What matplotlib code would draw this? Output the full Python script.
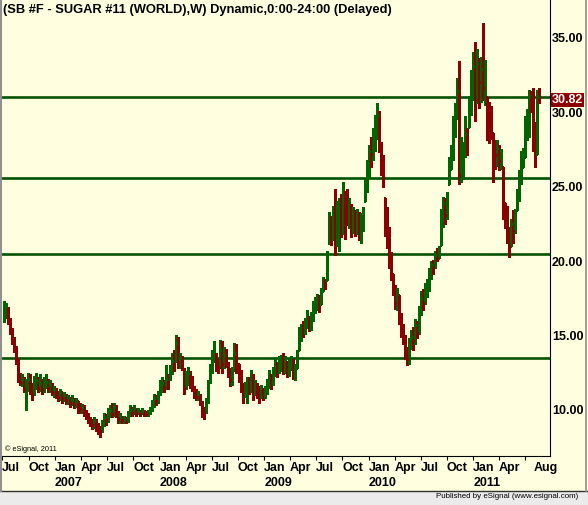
import matplotlib
matplotlib.use("Agg")
import matplotlib.pyplot as plt
import matplotlib.dates as mdates
from matplotlib.transforms import ScaledTranslation, blended_transform_factory
from matplotlib.lines import Line2D
from matplotlib.patches import Rectangle
import numpy as np
import pandas as pd

plt.rcParams['font.family'] = ['Liberation Sans', 'DejaVu Sans']

# weekly bars, SB #F sugar, Jul 2006 - Aug 2011
first_week = "2006-07-07"

opens = [16.2, 16.6, 16.6, 15.9, 15.2, 14.6, 13.9, 13.2, 12.2, 11.7, 11.9, 11.2, 11.6, 11.9, 11.3, 10.9,
         11.5, 11.8, 11.3, 11.6, 11.2, 11.6, 11.7, 11.3, 11.5, 11.0, 11.2, 10.9, 10.7, 11.0, 10.6, 10.8,
         10.5, 10.6, 10.3, 10.5, 10.2, 10.4, 10.0, 9.9, 10.0, 9.6, 9.4, 9.1, 9.0, 8.8, 9.1, 8.7,
         8.5, 8.4, 8.9, 9.3, 9.1, 9.6, 9.8, 9.5, 10.0, 9.6, 9.2, 9.3, 9.1, 9.2, 9.0, 9.5,
         9.8, 9.6, 9.9, 9.6, 9.7, 9.5, 9.7, 9.6, 9.5, 9.6, 9.8, 10.3, 10.6, 10.4, 10.9, 11.3,
         11.6, 11.3, 11.9, 11.9, 12.5, 13.1, 13.1, 14.3, 13.0, 13.3, 12.5, 11.3, 11.8, 12.3, 11.9, 11.4,
         11.0, 10.7, 10.9, 10.4, 9.8, 9.6, 10.3, 11.7, 12.5, 13.5, 13.6, 13.0, 12.7, 13.8, 12.9, 13.5,
         13.0, 12.4, 11.8, 12.4, 13.6, 12.9, 12.0, 11.5, 11.0, 11.4, 11.8, 11.2, 11.7, 11.0, 11.4, 11.1,
         10.9, 11.2, 10.8, 11.2, 11.5, 12.0, 11.6, 12.4, 12.8, 12.5, 12.9, 13.1, 12.6, 12.9, 12.4, 12.8,
         13.0, 12.5, 12.6, 13.8, 14.8, 15.2, 15.0, 15.6, 15.9, 15.4, 16.0, 16.6, 16.9, 17.3, 16.9, 17.8,
         18.3, 18.5, 21.0, 21.6, 21.3, 22.5, 21.0, 21.6, 23.5, 22.4, 24.2, 23.2, 22.8, 23.3, 22.0, 22.6,
         22.2, 22.9, 22.3, 22.5, 23.8, 24.6, 26.1, 27.2, 27.0, 28.0, 28.8, 29.6, 27.5, 26.4, 24.0, 22.3,
         21.5, 19.8, 18.9, 18.0, 17.0, 17.5, 16.0, 15.1, 14.6, 13.5, 13.2, 14.2, 14.7, 14.4, 15.5, 15.0,
         16.4, 17.3, 17.0, 17.8, 18.0, 18.9, 19.5, 19.4, 20.2, 20.0, 20.9, 22.8, 23.7, 22.9, 25.0, 26.0,
         27.1, 28.6, 29.8, 31.2, 25.6, 26.4, 27.0, 28.3, 28.8, 29.8, 31.6, 32.9, 30.6, 33.1, 31.8, 32.7,
         31.4, 30.8, 30.2, 29.5, 28.4, 27.6, 26.9, 27.4, 26.5, 26.1, 23.7, 23.2, 21.9, 20.8, 22.3, 21.8,
         23.2, 24.1, 25.5, 26.1, 26.8, 28.7, 29.2, 30.9, 30.5, 28.2, 27.0, 30.9]

highs = [17.1, 17.0, 16.7, 16.0, 15.3, 14.7, 14.1, 13.2, 12.3, 12.2, 12.0, 11.9, 12.3, 12.2, 11.6, 12.1,
         12.3, 12.0, 12.2, 11.9, 12.0, 12.2, 11.9, 11.8, 11.6, 11.4, 11.3, 11.1, 11.2, 11.0, 11.0, 10.9,
         10.8, 10.7, 10.8, 10.6, 10.6, 10.4, 10.3, 10.2, 10.1, 9.8, 9.6, 9.3, 9.2, 9.3, 9.2, 8.9,
         8.7, 9.1, 9.6, 9.5, 9.9, 10.1, 10.3, 10.3, 10.1, 9.7, 9.6, 9.4, 9.4, 9.3, 9.7, 10.1,
         10.0, 10.1, 9.9, 9.9, 9.8, 9.9, 9.8, 9.7, 9.8, 10.0, 10.5, 10.9, 10.8, 11.1, 11.8, 12.0,
         11.8, 12.8, 12.2, 12.8, 13.6, 13.8, 14.8, 14.7, 13.6, 13.4, 12.6, 12.4, 12.7, 12.4, 12.1, 11.4,
         11.2, 11.1, 10.9, 10.4, 10.0, 10.6, 11.8, 12.9, 13.8, 14.4, 13.6, 13.2, 14.5, 14.4, 14.0, 13.9,
         13.0, 12.6, 12.7, 14.3, 14.2, 12.9, 12.5, 11.6, 11.7, 12.0, 12.0, 12.5, 12.2, 11.8, 11.6, 11.4,
         11.5, 11.3, 11.4, 11.9, 12.5, 12.2, 12.7, 13.2, 13.0, 13.4, 13.5, 13.6, 13.4, 13.1, 13.2, 13.4,
         13.2, 12.9, 13.8, 15.4, 15.6, 15.8, 16.0, 16.5, 16.1, 16.4, 17.1, 17.4, 17.6, 17.5, 18.0, 18.7,
         18.6, 20.5, 23.1, 22.8, 23.5, 24.6, 23.8, 24.0, 24.3, 25.1, 24.5, 24.6, 24.0, 23.6, 23.4, 23.2,
         23.3, 23.1, 23.0, 23.4, 25.3, 26.6, 27.6, 28.1, 28.7, 29.6, 30.4, 29.9, 27.8, 26.9, 24.0, 23.4,
         22.1, 20.4, 18.9, 18.2, 18.0, 17.5, 16.3, 15.6, 14.8, 14.0, 14.6, 15.2, 15.4, 15.9, 15.8, 16.8,
         17.8, 17.9, 18.3, 18.6, 19.3, 19.8, 19.9, 20.5, 20.7, 20.8, 23.3, 24.1, 24.0, 24.4, 26.8, 27.6,
         29.5, 30.4, 32.1, 33.2, 28.1, 27.8, 29.5, 28.7, 30.9, 32.6, 33.8, 34.5, 34.0, 33.4, 33.5, 35.8,
         33.3, 30.8, 30.5, 30.2, 28.4, 27.9, 27.9, 27.6, 27.3, 26.1, 23.7, 23.5, 22.1, 22.6, 23.2, 23.3,
         24.6, 25.9, 27.2, 27.4, 29.5, 30.0, 31.3, 31.2, 31.4, 29.1, 31.3, 31.4]

lows = [15.7, 16.0, 15.6, 14.9, 14.2, 13.7, 12.9, 11.7, 11.5, 11.4, 11.0, 9.8, 11.1, 10.9, 10.5, 10.8,
        11.2, 11.0, 11.1, 10.9, 11.0, 11.3, 11.0, 11.0, 10.8, 10.7, 10.6, 10.4, 10.5, 10.3, 10.4, 10.2,
        10.2, 10.0, 10.1, 9.9, 10.0, 9.6, 9.6, 9.6, 9.4, 9.2, 8.9, 8.7, 8.5, 8.6, 8.4, 8.2,
        8.0, 8.3, 8.7, 8.8, 9.0, 9.3, 9.3, 9.4, 9.3, 8.9, 8.9, 8.9, 8.9, 8.9, 9.0, 9.4,
        9.4, 9.5, 9.4, 9.5, 9.4, 9.5, 9.4, 9.4, 9.4, 9.5, 9.7, 10.0, 10.1, 10.3, 10.8, 11.0,
        11.0, 11.2, 11.2, 11.8, 12.2, 12.4, 13.0, 12.6, 12.6, 12.5, 10.9, 11.2, 11.5, 11.3, 11.1, 10.6,
        10.5, 10.5, 10.1, 9.3, 9.2, 9.6, 10.3, 11.6, 12.3, 13.0, 12.4, 12.3, 12.6, 12.3, 12.6, 12.7,
        12.0, 11.4, 11.5, 12.4, 12.3, 11.7, 11.0, 10.3, 10.7, 10.3, 10.9, 11.0, 10.5, 10.8, 10.6, 10.3,
        10.6, 10.5, 10.6, 10.9, 11.3, 11.2, 11.5, 12.1, 12.0, 12.3, 12.4, 12.2, 12.3, 12.0, 12.1, 12.5,
        11.9, 11.8, 12.6, 13.8, 14.4, 14.7, 14.9, 15.3, 15.1, 15.2, 15.8, 16.3, 16.5, 16.4, 16.9, 17.8,
        17.9, 18.5, 21.0, 20.9, 21.2, 20.2, 20.8, 20.5, 21.4, 21.6, 21.3, 22.2, 22.0, 21.4, 21.7, 21.5,
        21.6, 21.2, 21.0, 21.8, 23.8, 24.4, 25.4, 26.1, 26.6, 27.2, 28.0, 27.1, 25.6, 24.8, 21.5, 20.7,
        19.3, 18.5, 17.5, 16.6, 16.5, 15.6, 14.7, 14.2, 13.2, 12.8, 12.9, 13.9, 13.8, 14.2, 14.6, 14.9,
        16.2, 16.5, 16.9, 17.4, 17.8, 18.6, 18.9, 19.3, 19.8, 20.0, 20.9, 22.1, 22.3, 22.6, 25.0, 26.0,
        26.6, 28.1, 29.3, 25.0, 25.1, 25.3, 26.8, 26.9, 28.8, 29.6, 30.6, 29.2, 30.4, 30.1, 30.5, 30.6,
        30.3, 27.9, 27.7, 28.0, 25.1, 26.0, 26.2, 25.9, 26.0, 22.6, 22.0, 21.0, 20.1, 20.8, 21.0, 21.7,
        23.2, 23.8, 25.0, 26.1, 26.8, 27.9, 28.1, 29.8, 27.2, 26.1, 27.0, 30.4]

closes = [16.6, 16.8, 15.9, 15.2, 14.6, 13.9, 13.2, 12.4, 11.7, 11.9, 11.2, 11.6, 11.9, 11.3, 10.9, 11.5,
          11.8, 11.3, 11.6, 11.2, 11.6, 11.7, 11.3, 11.5, 11.0, 11.2, 10.9, 10.7, 11.0, 10.6, 10.8, 10.5,
          10.6, 10.3, 10.5, 10.2, 10.4, 10.0, 9.9, 10.0, 9.6, 9.4, 9.1, 9.0, 8.8, 9.1, 8.7, 8.5,
          8.4, 8.9, 9.3, 9.1, 9.6, 9.8, 9.5, 10.0, 9.6, 9.2, 9.3, 9.1, 9.2, 9.0, 9.5, 9.8,
          9.6, 9.9, 9.6, 9.7, 9.5, 9.7, 9.6, 9.5, 9.6, 9.8, 10.3, 10.6, 10.4, 10.9, 11.3, 11.6,
          11.3, 11.9, 11.6, 12.5, 13.1, 12.8, 14.3, 13.0, 13.3, 12.9, 11.3, 11.8, 12.3, 11.9, 11.4, 11.0,
          10.7, 10.9, 10.4, 9.8, 9.6, 10.3, 11.3, 12.5, 13.5, 13.9, 13.0, 12.7, 13.8, 12.9, 13.5, 13.2,
          12.4, 11.8, 12.1, 13.6, 12.9, 12.0, 11.5, 11.0, 11.4, 11.8, 11.2, 11.7, 11.0, 11.4, 11.1, 10.9,
          11.2, 10.8, 11.2, 11.5, 12.0, 11.6, 12.4, 12.8, 12.5, 12.9, 13.1, 12.6, 12.9, 12.4, 12.8, 13.0,
          12.5, 12.6, 13.4, 14.8, 15.2, 15.0, 15.6, 15.9, 15.4, 16.0, 16.6, 16.9, 17.3, 16.8, 17.6, 18.3,
          18.1, 20.3, 21.6, 21.3, 22.5, 21.0, 21.6, 23.5, 22.4, 24.2, 23.2, 22.8, 23.3, 22.0, 22.6, 22.2,
          22.9, 22.3, 22.5, 22.9, 24.6, 26.1, 27.2, 27.0, 28.0, 28.8, 29.6, 27.5, 26.4, 25.5, 22.3, 21.5,
          19.8, 19.0, 18.0, 17.0, 17.6, 16.0, 15.1, 14.6, 13.5, 13.2, 14.2, 14.7, 14.4, 15.5, 15.0, 16.4,
          17.3, 17.0, 17.8, 18.0, 18.9, 19.5, 19.4, 20.2, 20.0, 20.6, 22.8, 23.7, 22.9, 23.8, 25.8, 27.1,
          28.6, 29.8, 31.2, 25.6, 26.4, 27.0, 28.3, 27.6, 29.8, 31.6, 32.9, 30.6, 33.1, 31.8, 32.7, 31.4,
          32.9, 30.2, 29.5, 28.7, 27.6, 26.9, 27.4, 26.5, 26.8, 25.6, 23.2, 21.9, 20.8, 22.3, 21.8, 22.9,
          24.1, 25.5, 25.9, 26.8, 28.7, 29.2, 30.9, 30.5, 28.2, 26.6, 30.9, 30.82]

# horizontal price lines drawn on the chart
levels = [30.82, 25.35, 20.25, 13.31]
last_price = 30.82

y_ticks = [10, 15, 20, 25, 30, 35]

quarter_starts = pd.date_range("2006-07-01", "2011-07-01", freq="QS")
label_dates = list(pd.date_range("2006-07-01", "2011-04-01", freq="QS")) + [pd.Timestamp("2011-08-01")]
label_texts = ["Jul", "Oct", "Jan\n2007", "Apr", "Jul", "Oct", "Jan\n2008", "Apr", "Jul", "Oct",
               "Jan\n2009", "Apr", "Jul", "Oct", "Jan\n2010", "Apr", "Jul", "Oct", "Jan\n2011", "Apr",
               "Aug"]

title = "(SB #F - SUGAR #11 (WORLD),W) Dynamic,0:00-24:00 (Delayed)"

BG = "#ffffe0"
UP = "#006400"
DOWN = "#8b0000"
W, H = 588, 505

fig = plt.figure(figsize=(W / 100, H / 100), dpi=100, facecolor=BG)
ax = fig.add_axes([2.3 / W, (H - 456) / H, (550 - 2.3) / W, 456 / H])
ax.set_facecolor(BG)

dates = pd.date_range(first_week, periods=len(closes), freq="7D")
x = mdates.date2num(dates)
c = np.array(closes)
prev = np.concatenate([[c[0] - 1], c[:-1]])
colors = np.where(c >= prev, UP, DOWN)

lw = 0.75
ax.vlines(x, lows, highs, colors=colors, linewidth=lw, antialiased=False)
ax.hlines(opens, x - 2.6, x, colors=colors, linewidth=lw, antialiased=False)
ax.hlines(closes, x, x + 2.6, colors=colors, linewidth=lw, antialiased=False)

for lv in levels:
    ax.axhline(lv, color="#005200", linewidth=1.9, zorder=1)

ax.set_xlim(mdates.date2num(pd.Timestamp("2006-07-01")), mdates.date2num(pd.Timestamp("2011-09-26")))
ax.set_ylim(6.71, 37.32)

# y axis on the right
ax.yaxis.tick_right()
ax.set_yticks(y_ticks)
ax.set_yticklabels([f"{v:.2f}" for v in y_ticks], fontsize=9, fontweight="bold")
ax.tick_params(axis="y", length=0, pad=1.5)
shift = ScaledTranslation(0, -3 / 100, fig.dpi_scale_trans)
for lbl in ax.get_yticklabels():
    lbl.set_transform(lbl.get_transform() + shift)

# x axis: tick marks at quarters, labels left aligned at the tick
ax.xaxis.remove_overlapping_locs = False
ax.set_xticks(mdates.date2num(quarter_starts))
ax.set_xticklabels([])
ax.tick_params(axis="x", which="major", length=3, width=0.8, direction="out", color="black")
ax.set_xticks(mdates.date2num(label_dates), minor=True)
ax.set_xticklabels(label_texts, minor=True, fontsize=9, fontweight="bold", linespacing=1.3)
ax.tick_params(axis="x", which="minor", length=0, pad=4.2)
for lbl in ax.get_xticklabels(minor=True):
    lbl.set_horizontalalignment("left")

for side in ["top", "left"]:
    ax.spines[side].set_visible(False)
ax.spines["right"].set_color("black")
ax.spines["right"].set_linewidth(0.8)
ax.spines["bottom"].set_color("black")
ax.spines["bottom"].set_linewidth(0.8)

# last price marker
tr = blended_transform_factory(ax.transAxes, ax.transData) + shift
ax.text(1.004, last_price, f"{last_price:.2f}", transform=tr, color="white", fontsize=9,
        fontweight="bold", va="center", ha="left",
        bbox=dict(boxstyle="square,pad=0.08", fc="#8b0000", ec="none"), zorder=5)

fig.text(3 / W, 1 - 10 / H, title, fontsize=9.3, fontweight="bold", va="center", ha="left")
fig.text(5 / W, 1 - 449 / H, "\u00a9 eSignal, 2011", fontsize=5.3, va="center", ha="left")

# frame and footer
fig.add_artist(Rectangle((0, 0), 1, 14 / H, transform=fig.transFigure, fc="#ebebeb", ec="none"))
fig.add_artist(Line2D([0, 1], [14.5 / H, 14.5 / H], transform=fig.transFigure, color="#303030", lw=1))
fig.add_artist(Line2D([1 / W, 1 / W], [14.5 / H, 1], transform=fig.transFigure, color="#909090", lw=1.5))
fig.add_artist(Line2D([585.5 / W, 585.5 / W], [14.5 / H, 1], transform=fig.transFigure, color="#909090", lw=1.2))
fig.text(578 / W, 1 - 497 / H, "Published by eSignal (www.esignal.com)", fontsize=5.7,
         va="center", ha="right")

fig.savefig("out.png", dpi=100, facecolor=BG)
